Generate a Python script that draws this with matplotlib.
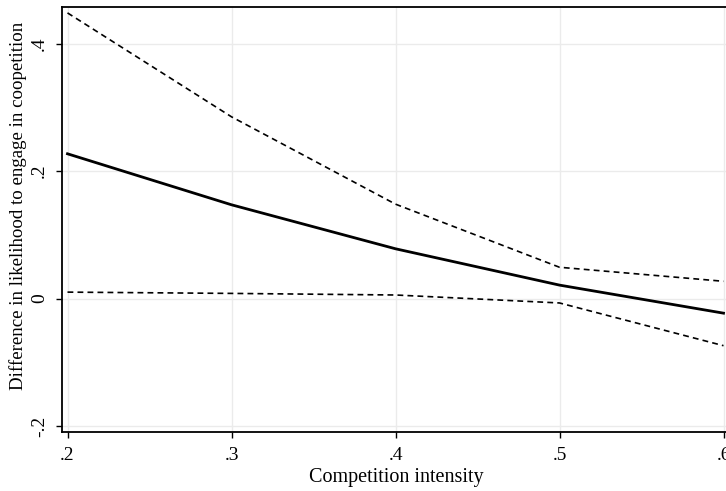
import matplotlib
matplotlib.use("Agg")
import matplotlib.pyplot as plt

# competition intensity and estimated difference with 95% bounds
intensity = [0.2, 0.3, 0.4, 0.5, 0.6]
diff = [0.227, 0.147, 0.078, 0.021, -0.023]
upper = [0.448, 0.285, 0.148, 0.049, 0.027]
lower = [0.010, 0.008, 0.0055, -0.007, -0.074]

xticks = [0.2, 0.3, 0.4, 0.5, 0.6]
xlabels = [".2", ".3", ".4", ".5", ".6"]
yticks = [-0.2, 0.0, 0.2, 0.4]
ylabels = ["-.2", "0", ".2", ".4"]

plt.rcParams["font.family"] = ["Liberation Serif", "DejaVu Serif"]

W, H = 726, 491
fig = plt.figure(figsize=(W / 100, H / 100), dpi=100)
# axes box in pixels: left 62, top 7, bottom 432, right runs past the edge
left, top, bottom, right = 62, 7, 432, 730
ax = fig.add_axes([left / W, 1 - bottom / H, (right - left) / W, (bottom - top) / H])

px_x = 1640.0  # pixels per x unit
px_y = 637.5   # pixels per y unit
ax.set_xlim(0.2 - 5.5 / px_x, 0.2 - 5.5 / px_x + (right - left) / px_x)
ax.set_ylim(-0.2 - 6 / px_y, -0.2 - 6 / px_y + (bottom - top) / px_y)

ax.grid(True, color="#ebebeb", linewidth=1.0)
ax.set_axisbelow(True)

ax.plot(intensity, upper, color="black", linewidth=1.2, linestyle=(0, (3.5, 2.5)))
ax.plot(intensity, lower, color="black", linewidth=1.2, linestyle=(0, (3.5, 2.5)))
ax.plot(intensity, diff, color="black", linewidth=2.0)

ax.set_xticks(xticks)
ax.set_xticklabels(xlabels)
ax.set_yticks(yticks)
ax.set_yticklabels(ylabels, rotation=90, va="center")
ax.tick_params(labelsize=14, length=4, width=1, color="black")
ax.tick_params(axis="x", pad=7)
ax.tick_params(axis="y", pad=6)

ax.spines["right"].set_visible(False)
for s in ["left", "bottom", "top"]:
    ax.spines[s].set_linewidth(1.3)

ax.set_xlabel("Competition intensity", fontsize=14.5, labelpad=3)
ax.set_ylabel("Difference in likelihood to engage in coopetition", fontsize=13.6)
ax.yaxis.set_label_coords(-(62 - 27) / (right - left), (bottom - 206) / (bottom - top))

fig.savefig("out.png", dpi=100)
